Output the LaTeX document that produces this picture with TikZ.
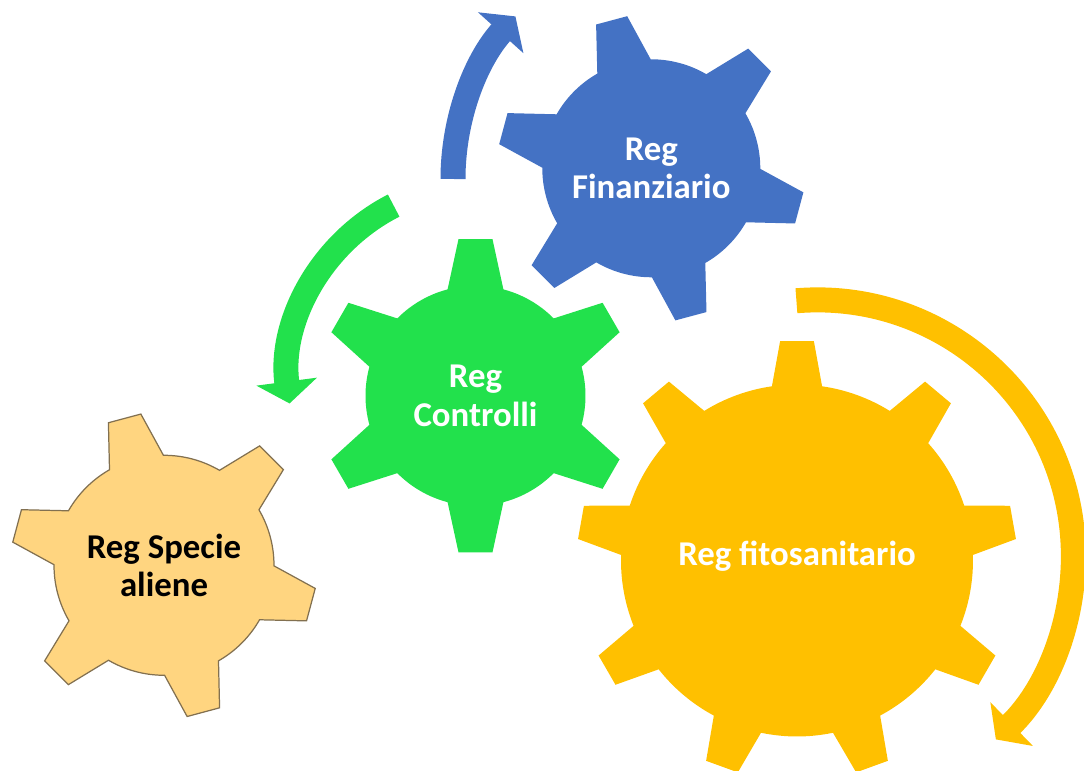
\documentclass[tikz,border=0pt]{standalone}
\usepackage{fontspec}
\setmainfont{Carlito}
\usetikzlibrary{arrows.meta}

\definecolor{finblue}{RGB}{68,114,196}
\definecolor{ctrlgreen}{RGB}{34,225,76}
\definecolor{fitoyellow}{RGB}{255,192,0}
\definecolor{aliencream}{RGB}{255,213,128}
\definecolor{alienedge}{RGB}{130,112,80}

% teeth, first tooth angle, body radius, tip radius, base half angle, tip half angle, style
\newcommand{\gearpath}[7]{%
  \pgfmathsetmacro{\gearstep}{360/#1}
  \path[#7] ({#2-#5}:#3)
    \foreach \k in {1,...,#1}{
      -- ({#2+(\k-1)*\gearstep-#6}:#4) -- ({#2+(\k-1)*\gearstep+#6}:#4)
      -- ({#2+(\k-1)*\gearstep+#5}:#3)
      arc[start angle={#2+(\k-1)*\gearstep+#5}, end angle={#2+\k*\gearstep-#5}, radius=#3]
    } -- cycle;
}

\begin{document}
\begin{tikzpicture}[
  turnarrow/.style={line width=0.25cm, -{Triangle[width=0.6cm,length=0.22cm]}},
  gearlabel/.style={align=center, font=\fontsize{9.9}{10.9}\selectfont\bfseries, text=white}]

\useasboundingbox (0,0) rectangle (10.84,7.71);

\coordinate (fin) at (6.513,6.027);
\coordinate (ctrl) at (4.755,3.752);
\coordinate (alien) at (1.64,2.057);
\coordinate (fito) at (7.97,2.105);

% arrows
\draw[turnarrow, finblue] ([shift={(180:2.43)}]6.96,5.92) arc[start angle=180, end angle=138, radius=2.43];
\draw[turnarrow, ctrlgreen] ([shift={(117:1.937)}]4.816,3.928) arc[start angle=117, end angle=187.5, radius=1.937];
\draw[turnarrow, fitoyellow] ([shift={(94.7:2.56)}]8.174,2.151) arc[start angle=94.7, end angle=-45.8, radius=2.56];

% gears
\begin{scope}[shift={(fin)}]
\gearpath{6}{-15}{1.09}{1.54}{14.7}{6}{fill=finblue}
\end{scope}
\begin{scope}[shift={(ctrl)}]
\gearpath{6}{90}{1.10}{1.575}{14.7}{6.2}{fill=ctrlgreen}
\end{scope}
\begin{scope}[shift={(alien)}]
\gearpath{6}{-15}{1.10}{1.53}{14.7}{6.3}{fill=aliencream, draw=alienedge, line width=0.35pt}
\end{scope}
\begin{scope}[shift={(fito)}]
\gearpath{9}{90}{1.76}{2.20}{8.2}{4.4}{fill=fitoyellow}
\end{scope}

\node[gearlabel] (finlabel) at (fin) {Reg\\Finanziario};
\node[gearlabel] (ctrllabel) at (ctrl) {Reg\\Controlli};
\node[gearlabel, text=black] (alienlabel) at (alien) {Reg Specie\\aliene};
\node[gearlabel] (fitolabel) at (7.97,2.15) {Reg fitosanitario};

\end{tikzpicture}
\end{document}
